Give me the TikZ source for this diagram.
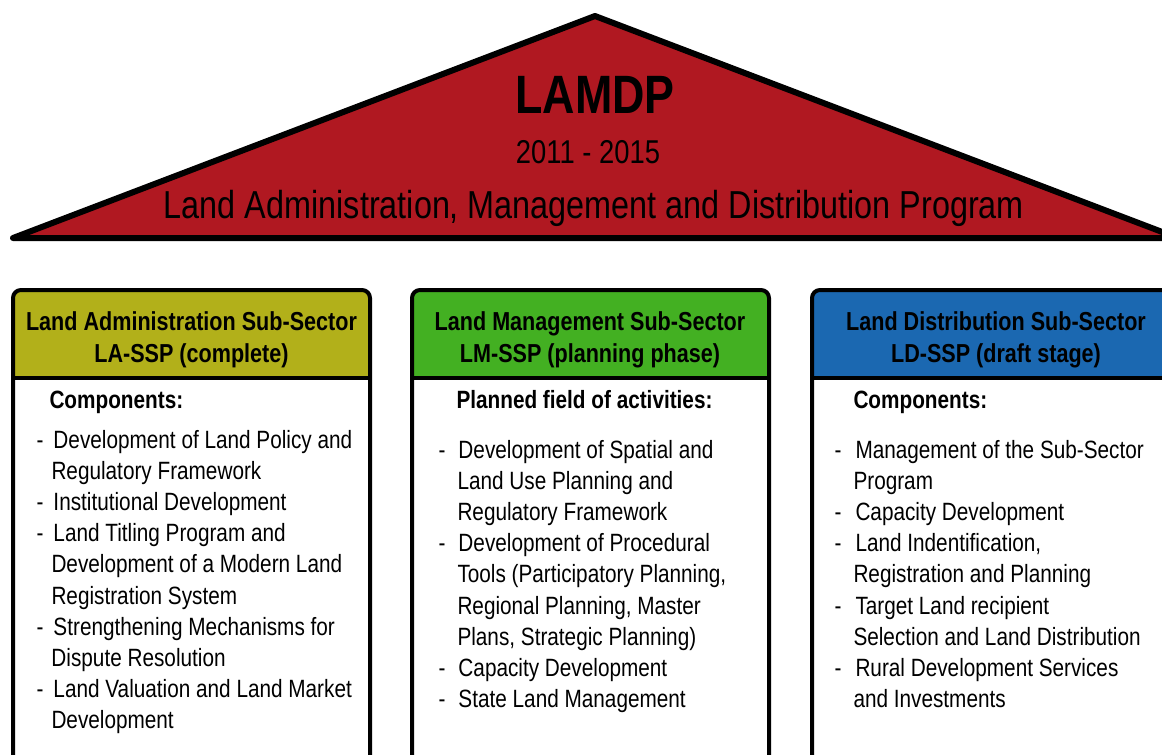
\documentclass[tikz,border=0pt]{standalone}
\usepackage{fontspec}
\setmainfont[FakeStretch=0.83]{Liberation Sans}
\usepackage{xcolor}
\definecolor{roofred}{RGB}{176,24,33}
\definecolor{laolive}{RGB}{178,176,26}
\definecolor{lmgreen}{RGB}{67,176,34}
\definecolor{ldblue}{RGB}{27,104,177}
\newcommand{\itemdash}[1]{\makebox[#1][l]{-}}

\begin{document}
\begin{tikzpicture}[x=1pt, y=-1pt,
  every node/.style = {inner sep=0pt, outer sep=0pt, text=black}]
    \tikzstyle{roofline}=[draw=black, line width=6pt, line join=round, fill=roofred]
    \tikzstyle{colframe}=[draw=black, line width=4pt, line join=round]
    \tikzstyle{headtext}=[align=center, font=\fontsize{26}{32}\selectfont\bfseries]
    \tikzstyle{bodytext}=[align=left, font=\fontsize{25}{31.2}\selectfont]
  \useasboundingbox (0,0) rectangle (1162,755);
  \clip (0,0) rectangle (1162,755);
  \coordinate (apex) at (595,16);
  \coordinate (eaveL) at (13,238);
  \coordinate (eaveR) at (1178,238);
  \draw[roofline] (eaveL) -- (apex) -- (eaveR) -- cycle;
  \node[anchor=base, font=\fontsize{54}{60}\selectfont\bfseries] (title) at (595,113) {LAMDP};
  \node[anchor=base, font=\fontsize{33}{40}\selectfont] (years) at (588,163) {2011 - 2015};
  \node[anchor=base, font=\fontsize{39}{46}\selectfont] (fullname) at (594,218)
    {Land Administration, Management and Distribution Program};
  \foreach \xl/\xr/\col in {13/370/laolive, 412/769/lmgreen, 812/1169/ldblue} {
    \fill[\col] (\xl,378) [rounded corners=8pt] -- (\xl,290) -- (\xr,290) [sharp corners] -- (\xr,378) -- cycle;
    \draw[colframe] (\xl,800) [rounded corners=8pt] -- (\xl,290) -- (\xr,290) [sharp corners] -- (\xr,800);
    \draw[colframe] (\xl,378) -- (\xr,378);
  }
  \node[headtext, anchor=base] (headLA) at (191.5,362) {Land Administration Sub-Sector\\LA-SSP (complete)};
  \node[headtext, anchor=base] (headLM) at (590,362) {Land Management Sub-Sector\\LM-SSP (planning phase)};
  \node[headtext, anchor=base] (headLD) at (996,362) {Land Distribution Sub-Sector\\LD-SSP (draft stage)};
  \node[bodytext, anchor=base west, font=\fontsize{25}{31.2}\selectfont\bfseries] (capLA) at (49.5,408) {Components:};
  \node[bodytext, anchor=base west, font=\fontsize{25}{31.2}\selectfont\bfseries] (capLM) at (456.5,408) {Planned field of activities:};
  \node[bodytext, anchor=base west, font=\fontsize{25}{31.2}\selectfont\bfseries] (capLD) at (853.5,408) {Components:};
  \node[bodytext, anchor=base west] (listLA) at (36.5,728.8) {%
    \itemdash{17pt}Development of Land Policy and\\
    \hspace*{15pt}Regulatory Framework\\
    \itemdash{17pt}Institutional Development\\
    \itemdash{17pt}Land Titling Program and\\
    \hspace*{15pt}Development of a Modern Land\\
    \hspace*{15pt}Registration System\\
    \itemdash{17pt}Strengthening Mechanisms for\\
    \hspace*{15pt}Dispute Resolution\\
    \itemdash{17pt}Land Valuation and Land Market\\
    \hspace*{15pt}Development};
  \node[bodytext, anchor=base west] (listLM) at (438.5,707.6) {%
    \itemdash{20pt}Development of Spatial and\\
    \hspace*{19pt}Land Use Planning and\\
    \hspace*{19pt}Regulatory Framework\\
    \itemdash{20pt}Development of Procedural\\
    \hspace*{19pt}Tools (Participatory Planning,\\
    \hspace*{19pt}Regional Planning, Master\\
    \hspace*{19pt}Plans, Strategic Planning)\\
    \itemdash{20pt}Capacity Development\\
    \itemdash{20pt}State Land Management};
  \node[bodytext, anchor=base west] (listLD) at (834.5,707.6) {%
    \itemdash{21pt}Management of the Sub-Sector\\
    \hspace*{19pt}Program\\
    \itemdash{21pt}Capacity Development\\
    \itemdash{21pt}Land Indentification,\\
    \hspace*{19pt}Registration and Planning\\
    \itemdash{21pt}Target Land recipient\\
    \hspace*{19pt}Selection and Land Distribution\\
    \itemdash{21pt}Rural Development Services\\
    \hspace*{19pt}and Investments};
\end{tikzpicture}
\end{document}
